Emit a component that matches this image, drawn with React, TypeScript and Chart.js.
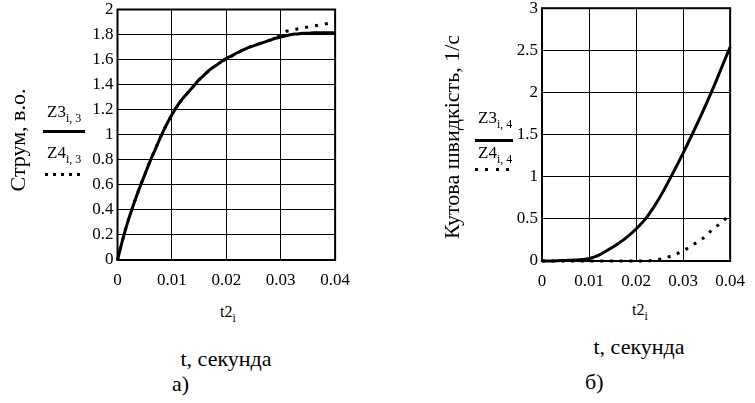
import React, { useEffect, useRef } from "react";
import { Chart, registerables } from "chart.js";

Chart.register(...registerables);

// ---------- data: panel а) current ----------
const tA = [
  0, 0.001, 0.002, 0.003, 0.004, 0.005, 0.006, 0.007, 0.008, 0.009, 0.01,
  0.011, 0.012, 0.013, 0.014, 0.015, 0.016, 0.017, 0.018, 0.019, 0.02,
  0.021, 0.022, 0.023, 0.024, 0.025, 0.026, 0.027, 0.028, 0.029, 0.03,
  0.031, 0.032, 0.033, 0.034, 0.035, 0.036, 0.037, 0.038, 0.039, 0.04,
];
const z3A = [
  0, 0.17, 0.32, 0.45, 0.57, 0.68, 0.79, 0.89, 0.99, 1.08, 1.16,
  1.23, 1.29, 1.34, 1.39, 1.44, 1.48, 1.52, 1.55, 1.58, 1.61,
  1.63, 1.655, 1.675, 1.695, 1.71, 1.725, 1.74, 1.755, 1.77, 1.78,
  1.79, 1.8, 1.805, 1.81, 1.81, 1.815, 1.815, 1.815, 1.815, 1.815,
];
const z4A = [
  0, 0.17, 0.32, 0.45, 0.57, 0.68, 0.79, 0.89, 0.99, 1.08, 1.16,
  1.23, 1.29, 1.34, 1.39, 1.44, 1.48, 1.52, 1.55, 1.58, 1.61,
  1.63, 1.655, 1.675, 1.695, 1.71, 1.725, 1.74, 1.755, 1.77, 1.795,
  1.825, 1.835, 1.845, 1.852, 1.86, 1.868, 1.876, 1.884, 1.89, 1.895,
];
const xTicksA = [0, 0.01, 0.02, 0.03, 0.04];
const xLabelsA = ["0", "0.01", "0.02", "0.03", "0.04"];
const yTicksA = [0, 0.2, 0.4, 0.6, 0.8, 1, 1.2, 1.4, 1.6, 1.8, 2];
const yLabelsA = ["0", "0.2", "0.4", "0.6", "0.8", "1", "1.2", "1.4", "1.6", "1.8", "2"];

// ---------- data: panel б) angular speed ----------
const tB = [
  0, 0.002, 0.004, 0.006, 0.008, 0.01, 0.012, 0.014, 0.016, 0.018, 0.02,
  0.022, 0.024, 0.026, 0.028, 0.03, 0.032, 0.034, 0.036, 0.038, 0.04,
];
const z3B = [
  0, 0, 0.005, 0.01, 0.015, 0.03, 0.067, 0.13, 0.2, 0.28, 0.38,
  0.5, 0.66, 0.85, 1.06, 1.28, 1.51, 1.75, 2.0, 2.27, 2.54,
];
const z4B = [
  0, 0, 0, 0, 0, 0, 0, 0, 0, 0, 0,
  0, 0.01, 0.035, 0.07, 0.12, 0.19, 0.26, 0.36, 0.45, 0.55,
];
const xTicksB = [0, 0.01, 0.02, 0.03, 0.04];
const xLabelsB = ["0", "0.01", "0.02", "0.03", "0.04"];
const yTicksB = [0, 0.5, 1, 1.5, 2, 2.5, 3];
const yLabelsB = ["0", "0.5", "1", "1.5", "2", "2.5", "3"];

const FONT = "Liberation Serif";

const framePlugin = {
  id: "frame",
  afterDraw(chart: any) {
    const { ctx, chartArea } = chart;
    const { left, top, right, bottom } = chartArea;
    ctx.save();
    ctx.strokeStyle = "#000";
    ctx.lineWidth = 2;
    ctx.strokeRect(left, top, right - left, bottom - top);
    ctx.restore();
  },
};

type PanelProps = {
  t: number[];
  z3: number[];
  z4: number[];
  xTicks: number[];
  xLabels: string[];
  yTicks: number[];
  yLabels: string[];
  yMax: number;
  left: number;
  width: number;
  yAxisWidth: number;
  padTop: number;
  padRight: number;
  xAxisHeight: number;
  dash: number[];
};

function Panel(p: PanelProps) {
  const ref = useRef<HTMLCanvasElement | null>(null);
  useEffect(() => {
    if (!ref.current) return;
    const chart = new Chart(ref.current, {
      type: "line",
      data: {
        datasets: [
          {
            data: p.t.map((x, i) => ({ x, y: p.z3[i] })),
            borderColor: "#000",
            borderWidth: 3,
            pointRadius: 0,
            cubicInterpolationMode: "monotone",
            clip: 4,
          } as any,
          {
            data: p.t.map((x, i) => ({ x, y: p.z4[i] })),
            borderColor: "#000",
            borderWidth: 3,
            borderDash: p.dash,
            pointRadius: 0,
            cubicInterpolationMode: "monotone",
            clip: 4,
          } as any,
        ],
      },
      options: {
        responsive: false,
        animation: false,
        layout: { padding: { top: p.padTop, right: p.padRight, left: 0, bottom: 0 } },
        plugins: { legend: { display: false }, tooltip: { enabled: false } },
        scales: {
          x: {
            type: "linear",
            min: 0,
            max: p.xTicks[p.xTicks.length - 1],
            afterBuildTicks: (s: any) => {
              s.ticks = p.xTicks.map((v) => ({ value: v }));
            },
            afterFit: (s: any) => {
              s.height = p.xAxisHeight;
            },
            ticks: {
              font: { family: FONT, size: 17 },
              color: "#000",
              padding: 10,
              maxRotation: 0,
              autoSkip: false,
              callback: (_v: any, i: number) => p.xLabels[i],
            },
            grid: { color: "#000", lineWidth: 1, drawTicks: false },
            border: { display: false },
          },
          y: {
            type: "linear",
            min: 0,
            max: p.yMax,
            afterBuildTicks: (s: any) => {
              s.ticks = p.yTicks.map((v) => ({ value: v }));
            },
            afterFit: (s: any) => {
              s.width = p.yAxisWidth;
            },
            ticks: {
              font: { family: FONT, size: 17 },
              color: "#000",
              padding: 4,
              autoSkip: false,
              callback: (_v: any, i: number) => p.yLabels[i],
            },
            grid: { color: "#000", lineWidth: 1, drawTicks: false },
            border: { display: false },
          },
        },
      },
      plugins: [framePlugin],
    } as any);
    return () => chart.destroy();
  }, []);
  return (
    <canvas
      ref={ref}
      width={p.width}
      height={306}
      style={{ position: "absolute", left: p.left, top: -6 }}
    />
  );
}

function Txt(props: { x: number; baseline: number; size: number; center?: boolean; children: any }) {
  const { x, baseline, size, center, children } = props;
  return (
    <div
      style={{
        position: "absolute",
        left: x,
        top: Math.round(baseline - 0.8375 * size),
        fontFamily: FONT,
        fontSize: size,
        lineHeight: 1,
        transform: center ? "translateX(-50%)" : undefined,
      }}
    >
      {children}
    </div>
  );
}

function Sub(props: { children: any }) {
  return <span style={{ fontSize: 12, position: "relative", top: 5 }}>{props.children}</span>;
}

function VTitle(props: { cx: number; cy: number; size: number; children: any }) {
  return (
    <div
      style={{
        position: "absolute",
        left: props.cx,
        top: props.cy,
        width: 300,
        marginLeft: -150,
        textAlign: "center",
        transform: "translateY(-50%) rotate(-90deg)",
        fontFamily: FONT,
        fontSize: props.size,
        lineHeight: 1,
      }}
    >
      {props.children}
    </div>
  );
}

function Solid(props: { x: number; y: number; w: number }) {
  return (
    <div style={{ position: "absolute", left: props.x, top: props.y - 1.5, width: props.w, height: 3, background: "#000" }} />
  );
}

function Dotted(props: { x: number; y: number; w: number; gap: number }) {
  return (
    <div
      style={{
        position: "absolute",
        left: props.x,
        top: props.y - 1.5,
        width: props.w,
        height: 3,
        background: `repeating-linear-gradient(to right, #000 0 3px, transparent 3px ${props.gap}px)`,
      }}
    />
  );
}

export default function App() {
  return (
    <div style={{ position: "absolute", left: 0, top: 0, width: 755, height: 403, overflow: "hidden", background: "#fff" }}>
      <Panel
        t={tA}
        z3={z3A}
        z4={z4A}
        xTicks={xTicksA}
        xLabels={xLabelsA}
        yTicks={yTicksA}
        yLabels={yLabelsA}
        yMax={2}
        left={0}
        width={360}
        yAxisWidth={117.5}
        padTop={15.5}
        padRight={21}
        xAxisHeight={40}
        dash={[3, 7]}
      />
      <Panel
        t={tB}
        z3={z3B}
        z4={z4B}
        xTicks={xTicksB}
        xLabels={xLabelsB}
        yTicks={yTicksB}
        yLabels={yLabelsB}
        yMax={3}
        left={380}
        width={375}
        yAxisWidth={162}
        padTop={13}
        padRight={18}
        xAxisHeight={39}
        dash={[3, 6.7]}
      />

      {/* panel а) annotations */}
      <VTitle cx={18} cy={140} size={22}>Струм, в.о.</VTitle>
      <Txt x={47} baseline={117} size={17}>
        Z3<Sub>i, 3</Sub>
      </Txt>
      <Solid x={43} y={131} w={42} />
      <Txt x={47} baseline={158} size={17}>
        Z4<Sub>i, 3</Sub>
      </Txt>
      <Dotted x={45} y={174} w={40} gap={8} />
      <Txt x={220} baseline={317} size={16}>
        t2<Sub>i</Sub>
      </Txt>
      <Txt x={226} baseline={366} size={22} center>
        t, секунда
      </Txt>
      <Txt x={172} baseline={391} size={22}>
        а)
      </Txt>

      {/* panel б) annotations */}
      <VTitle cx={452} cy={137} size={22}>Кутова швидкість, 1/с</VTitle>
      <Txt x={478} baseline={123} size={17}>
        Z3<Sub>i, 4</Sub>
      </Txt>
      <Solid x={475} y={140} w={38} />
      <Txt x={478} baseline={158} size={17}>
        Z4<Sub>i, 4</Sub>
      </Txt>
      <Dotted x={475} y={169} w={36} gap={10.3} />
      <Txt x={632} baseline={315} size={16}>
        t2<Sub>i</Sub>
      </Txt>
      <Txt x={639} baseline={354} size={22} center>
        t, секунда
      </Txt>
      <Txt x={585} baseline={389} size={22}>
        б)
      </Txt>
    </div>
  );
}
